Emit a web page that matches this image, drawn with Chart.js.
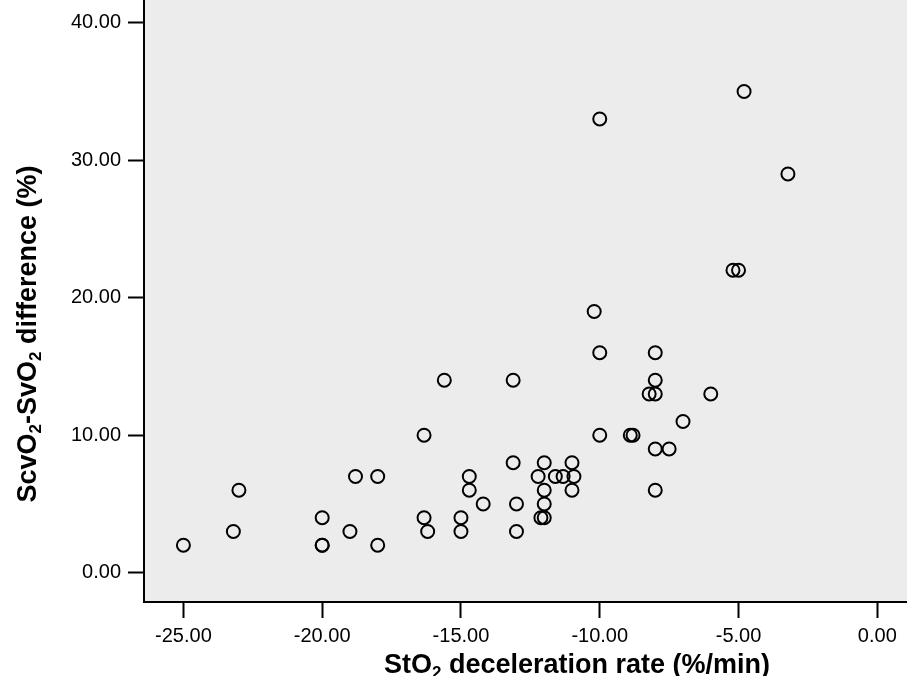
<!doctype html>
<html>
<head>
  <meta charset="utf-8" />
  <title>StO2 deceleration rate vs ScvO2-SvO2 difference</title>
  <script src="https://cdn.jsdelivr.net/npm/chart.js"></script>
  <style>
    html, body { margin: 0; padding: 0; background: #fff; overflow: hidden; }
    #wrap { width: 907px; height: 676px; }
  </style>
</head>
<body>
  <div id="wrap"><canvas id="chart" width="907" height="676"></canvas></div>

  <script>
    // StO2 deceleration rate (%/min)
    const decelRate = [
      -25, -23.2, -23, -20, -20, -20, -19, -18.8, -18, -18,
      -16.33, -16.33, -16.2, -15.6, -15, -15, -14.7, -14.7, -14.2,
      -13.12, -13.12, -13, -13, -12.22, -12, -12, -12, -12.12, -12,
      -11.6, -11.32, -11, -10.93, -11,
      -10.2, -10, -10, -10, -8.9, -8.8,
      -8.22, -8, -8, -8, -8, -7.5, -8, -7, -6,
      -5.2, -5, -4.8, -3.22
    ];
    // ScvO2-SvO2 difference (%)
    const scvSvDiff = [
      2, 3, 6, 4, 2, 2, 3, 7, 7, 2,
      10, 4, 3, 14, 4, 3, 7, 6, 5,
      14, 8, 5, 3, 7, 8, 6, 5, 4, 4,
      7, 7, 8, 7, 6,
      19, 33, 16, 10, 10, 10,
      13, 13, 16, 14, 9, 9, 6, 11, 13,
      22, 22, 35, 29
    ];
    const xTicks = [-25, -20, -15, -10, -5, 0];
    const yTicks = [0, 10, 20, 30, 40];
    const xRange = [-26.42, 1.07];
    const yRange = [-2.13, 41.65];

    const xTitleParts = [["StO", false], ["2", true], [" deceleration rate (%/min)", false]];
    const yTitleParts = [["ScvO", false], ["2", true], ["-SvO", false], ["2", true], [" difference (%)", false]];

    const FONT = '"Liberation Sans", Arial, Helvetica, sans-serif';

    function drawRich(ctx, parts, size, cx, baseY) {
      const main = `bold ${size}px ${FONT}`;
      const sub = `bold ${Math.round(size * 0.62)}px ${FONT}`;
      let w = 0;
      parts.forEach(p => { ctx.font = p[1] ? sub : main; w += ctx.measureText(p[0]).width; });
      let x = cx - w / 2;
      ctx.textAlign = "left";
      parts.forEach(p => {
        ctx.font = p[1] ? sub : main;
        ctx.fillText(p[0], x, baseY + (p[1] ? size * 0.2 : 0));
        x += ctx.measureText(p[0]).width;
      });
    }

    const plotBg = {
      id: "plotBg",
      beforeDraw(chart) {
        const a = chart.chartArea, ctx = chart.ctx;
        ctx.save();
        ctx.fillStyle = "#ececec";
        ctx.fillRect(a.left, a.top, a.right - a.left, a.bottom - a.top);
        ctx.restore();
      }
    };

    const axisTitles = {
      id: "axisTitles",
      afterDraw(chart) {
        const ctx = chart.ctx;
        ctx.save();
        ctx.fillStyle = "#000";
        ctx.textBaseline = "alphabetic";
        drawRich(ctx, xTitleParts, 27, 577, 673);
        ctx.translate(36, 334);
        ctx.rotate(-Math.PI / 2);
        drawRich(ctx, yTitleParts, 27, 0, 0);
        ctx.restore();
      }
    };

    const tickFont = { family: FONT, size: 20 };
    const gridOpts = { drawOnChartArea: false, drawTicks: true, tickLength: 16, tickWidth: 2, tickColor: "#000" };
    const borderOpts = { display: true, color: "#000", width: 2 };

    new Chart(document.getElementById("chart").getContext("2d"), {
      type: "scatter",
      data: {
        datasets: [{
          data: decelRate.map((x, i) => ({ x, y: scvSvDiff[i] })),
          pointStyle: "circle",
          pointRadius: 6.5,
          pointHoverRadius: 6.5,
          borderWidth: 2,
          borderColor: "#000",
          backgroundColor: "rgba(0,0,0,0)"
        }]
      },
      options: {
        responsive: false,
        animation: false,
        events: [],
        layout: { padding: 0, autoPadding: false },
        plugins: { legend: { display: false }, tooltip: { enabled: false } },
        scales: {
          x: {
            type: "linear",
            position: "bottom",
            min: xRange[0],
            max: xRange[1],
            afterBuildTicks: s => { s.ticks = xTicks.map(v => ({ value: v })); },
            afterFit: s => { s.height = 74; s.paddingLeft = 0; s.paddingRight = 0; },
            ticks: { callback: v => Number(v).toFixed(2), color: "#000", font: tickFont, padding: 6, maxRotation: 0, autoSkip: false },
            grid: gridOpts,
            border: borderOpts
          },
          y: {
            type: "linear",
            min: yRange[0],
            max: yRange[1],
            afterBuildTicks: s => { s.ticks = yTicks.map(v => ({ value: v })); },
            afterFit: s => { s.width = 144; s.paddingTop = 0; s.paddingBottom = 0; },
            ticks: { callback: v => Number(v).toFixed(2), color: "#000", font: tickFont, padding: 7, autoSkip: false },
            grid: gridOpts,
            border: borderOpts
          }
        }
      },
      plugins: [plotBg, axisTitles]
    });
  </script>
</body>
</html>
